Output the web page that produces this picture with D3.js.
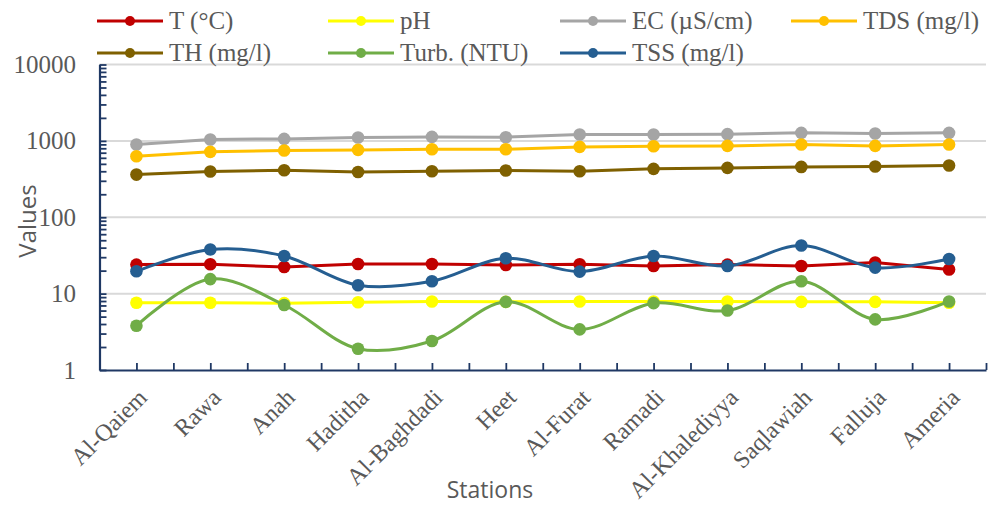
<!DOCTYPE html>
<html>
<head>
<meta charset="utf-8">
<script src="https://cdn.jsdelivr.net/npm/d3@7"></script>
<style>
  html, body { margin: 0; padding: 0; background: #ffffff; }
  svg { display: block; }
</style>
</head>
<body>
<svg id="chart" width="999" height="505"></svg>
<script>
// Stations along the river
const stations = ["Al-Qaiem", "Rawa", "Anah", "Haditha", "Al-Baghdadi", "Heet",
                  "Al-Furat", "Ramadi", "Al-Khalediyya", "Saqlawiah", "Falluja", "Ameria"];

// Measured parameters per station
const temperature = [24.0, 24.2, 22.3, 24.4, 24.4, 23.7, 24.2, 23.0, 24.0, 23.0, 25.5, 20.7];
const pH          = [7.6, 7.6, 7.5, 7.7, 7.9, 7.8, 7.9, 7.9, 7.9, 7.8, 7.8, 7.6];
const ec          = [897, 1043, 1062, 1108, 1128, 1118, 1213, 1213, 1224, 1274, 1250, 1274];
const tds         = [630, 718, 748, 762, 778, 778, 834, 851, 859, 897, 859, 897];
const th          = [362, 397, 413, 392, 401, 409, 401, 430, 443, 456, 461, 476];
const turbidity   = [3.8, 15.5, 7.1, 1.9, 2.4, 7.8, 3.4, 7.5, 6.0, 14.5, 4.6, 7.9];
const tss         = [19.6, 37.8, 31.1, 12.9, 14.5, 29.0, 19.4, 31.1, 23.0, 42.6, 21.9, 28.4];

// Log axis tick labels
const yTickValues = [1, 10, 100, 1000, 10000];

const series = [
  { name: "T (°C)",      values: temperature, color: "#c00000", smooth: false },
  { name: "pH",          values: pH,          color: "#ffff00", smooth: false },
  { name: "EC (µS/cm)",  values: ec,          color: "#a5a5a5", smooth: false },
  { name: "TDS (mg/l)",  values: tds,         color: "#ffc000", smooth: false },
  { name: "TH (mg/l)",   values: th,          color: "#7f6000", smooth: false },
  { name: "Turb. (NTU)", values: turbidity,   color: "#70ad47", smooth: true },
  { name: "TSS (mg/l)",  values: tss,         color: "#255e91", smooth: true }
];

const svg = d3.select("#chart");
const axisColor = "#1f3864";
const textColor = "#595959";
const serif = "'Liberation Serif', 'Times New Roman', serif";
const sans = "'Open Sans', 'Noto Sans', sans-serif";

const plotLeft = 99.5, plotRight = 986, plotTop = 64.5, plotBottom = 370;

const x = d3.scaleBand().domain(stations).range([plotLeft, plotRight]);
const y = d3.scaleLog().domain([1, 10000]).range([plotBottom, plotTop]);
const cx = s => x(s) + x.bandwidth() / 2;

// Horizontal grid lines at each decade
svg.append("g")
  .selectAll("line")
  .data(yTickValues.filter(v => v > 1))
  .join("line")
  .attr("x1", plotLeft).attr("x2", plotRight)
  .attr("y1", d => y(d)).attr("y2", d => y(d))
  .attr("stroke", "#d9d9d9").attr("stroke-width", 2);

// Y axis with decade and minor ticks pointing inward
const minorTicks = [];
for (let e = 0; e < 4; e++) for (let m = 1; m <= 9; m++) minorTicks.push(m * Math.pow(10, e));
minorTicks.push(10000);

const yAxis = svg.append("g").attr("transform", `translate(${plotLeft},0)`)
  .call(d3.axisRight(y).tickValues(minorTicks).tickSize(7).tickFormat("").tickSizeOuter(0));
yAxis.select(".domain").attr("stroke", axisColor).attr("stroke-width", 2.2);
yAxis.selectAll(".tick line").attr("stroke", axisColor).attr("stroke-width", 1.8);

svg.append("g")
  .selectAll("text")
  .data(yTickValues)
  .join("text")
  .attr("x", 76).attr("y", d => y(d)).attr("dy", "0.34em")
  .attr("text-anchor", "end")
  .attr("font-family", serif).attr("font-size", 25).attr("fill", textColor)
  .text(d => d3.format("d")(d));

// X axis with ticks at station centres and boundaries
const xTickPos = [];
for (let i = 1; i <= stations.length * 2; i++) xTickPos.push(plotLeft + i * x.step() / 2);
const xLin = d3.scaleLinear().domain([plotLeft, plotRight]).range([plotLeft, plotRight]);
const xAxis = svg.append("g").attr("transform", `translate(0,${plotBottom})`)
  .call(d3.axisTop(xLin).tickValues(xTickPos).tickSize(7).tickFormat("").tickSizeOuter(0));
xAxis.select(".domain").attr("stroke", axisColor).attr("stroke-width", 2.2);
xAxis.selectAll(".tick line").attr("stroke", axisColor).attr("stroke-width", 1.8);

svg.append("g")
  .selectAll("text")
  .data(stations)
  .join("text")
  .attr("transform", d => `translate(${cx(d) + 12},${399}) rotate(-45)`)
  .attr("text-anchor", "end")
  .attr("font-family", serif).attr("font-size", 24).attr("fill", textColor)
  .text(d => d);

// Axis titles
svg.append("text")
  .attr("transform", `translate(36,221) rotate(-90)`)
  .attr("text-anchor", "middle")
  .attr("font-family", sans).attr("font-size", 24).attr("fill", textColor)
  .text("Values");

svg.append("text")
  .attr("x", 490).attr("y", 498)
  .attr("text-anchor", "middle")
  .attr("font-family", sans).attr("font-size", 23).attr("fill", textColor)
  .text("Stations");

// Series lines and markers
const straight = d3.line().x((d, i) => cx(stations[i])).y(d => y(d));
const smooth = d3.line().x((d, i) => cx(stations[i])).y(d => y(d)).curve(d3.curveCatmullRom.alpha(0.5));

series.forEach(s => {
  const g = svg.append("g");
  g.append("path")
    .attr("d", (s.smooth ? smooth : straight)(s.values))
    .attr("fill", "none").attr("stroke", s.color).attr("stroke-width", 3)
    .attr("stroke-linejoin", "round").attr("stroke-linecap", "round");
  g.selectAll("circle")
    .data(s.values)
    .join("circle")
    .attr("cx", (d, i) => cx(stations[i])).attr("cy", d => y(d))
    .attr("r", 6.3).attr("fill", s.color);
});

// Legend in two rows
const legendPos = [
  { lx: 97, row: 0 }, { lx: 328, row: 0 }, { lx: 560, row: 0 }, { lx: 791, row: 0 },
  { lx: 97, row: 1 }, { lx: 328, row: 1 }, { lx: 560, row: 1 }
];
const legend = svg.append("g");
series.forEach((s, i) => {
  const p = legendPos[i];
  const ly = 21 + p.row * 32;
  const item = legend.append("g").attr("transform", `translate(${p.lx},${ly})`);
  item.append("line").attr("x1", 0).attr("x2", 66).attr("y1", 0).attr("y2", 0)
    .attr("stroke", s.color).attr("stroke-width", 3);
  item.append("circle").attr("cx", 33).attr("cy", 0).attr("r", 5).attr("fill", s.color);
  item.append("text").attr("x", 72).attr("y", 0).attr("dy", "0.33em")
    .attr("font-family", serif).attr("font-size", 25).attr("fill", textColor)
    .text(s.name);
});
</script>
</body>
</html>
